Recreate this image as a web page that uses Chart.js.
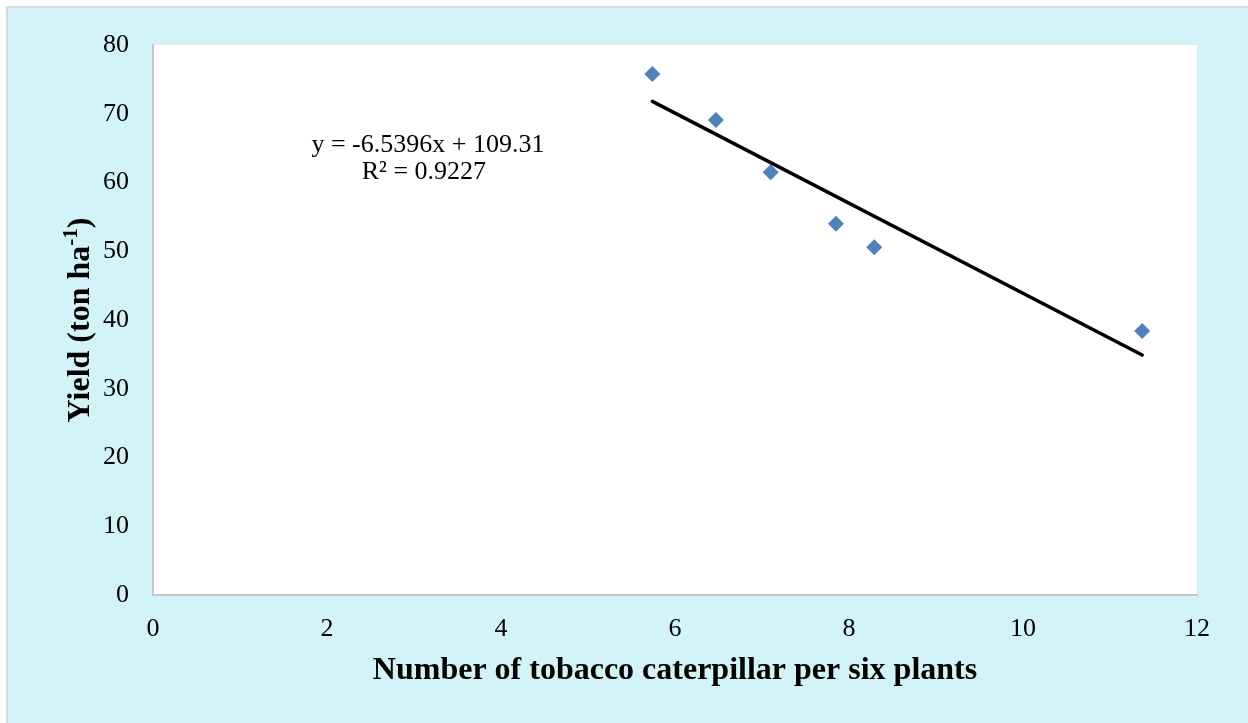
<!DOCTYPE html>
<html>
<head>
<meta charset="utf-8">
<script src="https://cdn.jsdelivr.net/npm/chart.js@4.4.1/dist/chart.umd.min.js"></script>
<style>
    body { margin: 0; background: #ffffff; }
    canvas { display: block; }
</style>
</head>
<body>
<canvas id="yieldChart" width="1248" height="723"></canvas>
<script>
// values
const caterpillars = [5.74, 6.47, 7.10, 7.85, 8.29, 11.37];
const yields = [75.8, 69.1, 61.5, 54.0, 50.6, 38.4];

// linear trendline end points (Excel fit)
const trendX = [5.74, 11.37];
const trendY = [71.8, 34.9];

const equationLines = ["y = -6.5396x + 109.31", "R\u00b2 = 0.9227"];
const xTitle = "Number of tobacco caterpillar per six plants";
const yTitleParts = ["Yield (ton ha", "-1", ")"];

const serif = "'Liberation Serif', 'Times New Roman', serif";

const backgroundPlugin = {
    id: "background",
    beforeDraw(chart) {
        const ctx = chart.ctx;
        const area = chart.chartArea;
        ctx.save();
        ctx.fillStyle = "#ffffff";
        ctx.fillRect(0, 0, chart.width, chart.height);
        ctx.fillStyle = "#d9d9d9";
        ctx.fillRect(6, 6, chart.width, chart.height);
        ctx.fillStyle = "#d2f4f9";
        ctx.fillRect(8, 8, chart.width, chart.height);
        ctx.fillStyle = "#ffffff";
        ctx.fillRect(area.left, area.top, area.right - area.left, area.bottom - area.top);
        ctx.restore();
    }
};

const labelsPlugin = {
    id: "labels",
    afterDraw(chart) {
        const ctx = chart.ctx;
        const area = chart.chartArea;
        const xs = chart.scales.x;
        const ys = chart.scales.y;
        ctx.save();
        ctx.fillStyle = "#000000";

        // equation box
        ctx.font = "26px " + serif;
        ctx.textAlign = "center";
        ctx.textBaseline = "alphabetic";
        const ex = xs.getPixelForValue(3.16);
        const ey = ys.getPixelForValue(64.5);
        ctx.fillText(equationLines[0], ex, ey);
        ctx.fillText(equationLines[1], ex - 4, ey + 27);

        // x axis title
        ctx.font = "bold 32px " + serif;
        ctx.fillText(xTitle, (area.left + area.right) / 2, 679);

        // y axis title with superscript
        ctx.translate(89, (area.top + area.bottom) / 2);
        ctx.rotate(-Math.PI / 2);
        ctx.textAlign = "left";
        const mainFont = "bold 32px " + serif;
        const supFont = "bold 21px " + serif;
        ctx.font = mainFont;
        const w0 = ctx.measureText(yTitleParts[0]).width;
        const w2 = ctx.measureText(yTitleParts[2]).width;
        ctx.font = supFont;
        const w1 = ctx.measureText(yTitleParts[1]).width;
        let pos = -(w0 + w1 + w2) / 2;
        ctx.font = mainFont;
        ctx.fillText(yTitleParts[0], pos, 0);
        pos += w0;
        ctx.font = supFont;
        ctx.fillText(yTitleParts[1], pos, -12);
        pos += w1;
        ctx.font = mainFont;
        ctx.fillText(yTitleParts[2], pos, 0);
        ctx.restore();
    }
};

new Chart(document.getElementById("yieldChart"), {
    type: "scatter",
    data: {
        datasets: [
            {
                label: "Linear trend",
                data: trendX.map((x, i) => ({ x: x, y: trendY[i] })),
                showLine: true,
                borderColor: "#000000",
                borderWidth: 3.5,
                borderCapStyle: "round",
                pointRadius: 0,
                pointHoverRadius: 0
            },
            {
                label: "Yield",
                data: caterpillars.map((x, i) => ({ x: x, y: yields[i] })),
                pointStyle: "rectRot",
                pointRadius: 8,
                pointHoverRadius: 8,
                backgroundColor: "#4f81bd",
                borderColor: "#4f81bd",
                borderWidth: 0
            }
        ]
    },
    options: {
        responsive: false,
        animation: false,
        devicePixelRatio: 1,
        layout: { padding: { left: 0, top: 45, right: 51, bottom: 0 } },
        plugins: {
            legend: { display: false },
            tooltip: { enabled: false }
        },
        scales: {
            x: {
                type: "linear",
                min: 0,
                max: 12,
                ticks: {
                    stepSize: 2,
                    padding: 19,
                    color: "#000000",
                    font: { family: serif, size: 26 }
                },
                grid: { display: false, drawTicks: false },
                border: { display: true, color: "#c6c6c6", width: 2 },
                afterFit(scale) { scale.height = 128; }
            },
            y: {
                type: "linear",
                min: 0,
                max: 80,
                ticks: {
                    stepSize: 10,
                    padding: 24,
                    color: "#000000",
                    font: { family: serif, size: 26 }
                },
                grid: { display: false, drawTicks: false },
                border: { display: true, color: "#c6c6c6", width: 2 },
                afterFit(scale) { scale.width = 153; }
            }
        }
    },
    plugins: [backgroundPlugin, labelsPlugin]
});
</script>
</body>
</html>
